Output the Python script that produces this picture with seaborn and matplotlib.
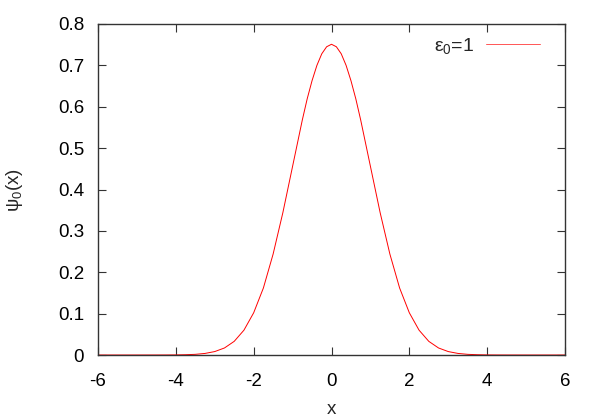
import numpy as np
import pandas as pd
import seaborn as sns
import matplotlib.pyplot as plt
from matplotlib.lines import Line2D

# valores
x = [-6.0, -5.5, -5.0, -4.5, -4.25, -4.0, -3.75, -3.5, -3.25,
     -3.0, -2.75, -2.5, -2.25, -2.0, -1.75, -1.5, -1.25, -1.0, -0.875, -0.75, -0.625,
     -0.5, -0.375, -0.25, -0.125,
     0.0, 0.125, 0.25, 0.375, 0.5, 0.625, 0.75, 0.875, 1.0, 1.25, 1.5, 1.75, 2.0, 2.25,
     2.5, 2.75, 3.0, 3.25, 3.5, 3.75, 4.0, 4.25, 4.5, 5.0, 5.5, 6.0]
psi0 = [0.0, 0.0, 0.0, 0.00003, 0.00009, 0.00025, 0.0007, 0.0016, 0.0038,
        0.0083, 0.017, 0.033, 0.060, 0.102, 0.162, 0.244, 0.344, 0.456, 0.512, 0.568, 0.619,
        0.663, 0.700, 0.728, 0.745,
        0.751, 0.745, 0.728, 0.700, 0.663, 0.619, 0.568, 0.512, 0.456, 0.344, 0.244, 0.162,
        0.102, 0.060, 0.033, 0.017, 0.0083, 0.0038, 0.0016, 0.0007, 0.00025, 0.00009,
        0.00003, 0.0, 0.0, 0.0]
xticks = [-6, -4, -2, 0, 2, 4, 6]
yticks = [0, 0.1, 0.2, 0.3, 0.4, 0.5, 0.6, 0.7, 0.8]

df = pd.DataFrame({'x': x, 'psi': psi0})

sns.set_style('ticks')
plt.rcParams['font.family'] = ['Liberation Sans', 'DejaVu Sans']
plt.rcParams['mathtext.fontset'] = 'custom'
plt.rcParams['mathtext.rm'] = 'Liberation Sans'
plt.rcParams['mathtext.it'] = 'Liberation Sans'
plt.rcParams['mathtext.default'] = 'regular'

fig = plt.figure(figsize=(6, 4.2), dpi=100)
ax = fig.add_axes([98 / 600, 65 / 420, 467 / 600, 331 / 420])
sns.lineplot(data=df, x='x', y='psi', color='red', linewidth=0.7, ax=ax)

ax.set_xlim(-6, 6)
ax.set_ylim(0, 0.8)
ax.set_xticks(xticks)
ax.set_xticklabels([str(t) for t in xticks])
ax.set_yticks(yticks)
ax.set_yticklabels(['0'] + [f'{t:.1f}' for t in yticks[1:]])
ax.tick_params(direction='in', top=True, right=True, length=6, width=0.8,
               labelsize=13.5, colors='#333333', labelcolor='black')
ax.tick_params(axis='x', pad=13)
ax.tick_params(axis='y', pad=10)
for s in ax.spines.values():
    s.set_color('#333333')
    s.set_linewidth(1)

ax.set_xlabel('x', fontsize=13.5, labelpad=8)
ax.set_ylabel(r'$\psi_0$(x)', fontsize=13.5, labelpad=24)

h = Line2D([], [], color='#ff5555', linewidth=0.7)
ax.legend([h], [r'$\varepsilon_0$=1'], loc='upper right', frameon=False, fontsize=14,
          markerfirst=False, handlelength=2.8, handletextpad=0.57,
          bbox_to_anchor=(0.9715, 1.0), borderaxespad=0.2)

plt.savefig('out.png')
